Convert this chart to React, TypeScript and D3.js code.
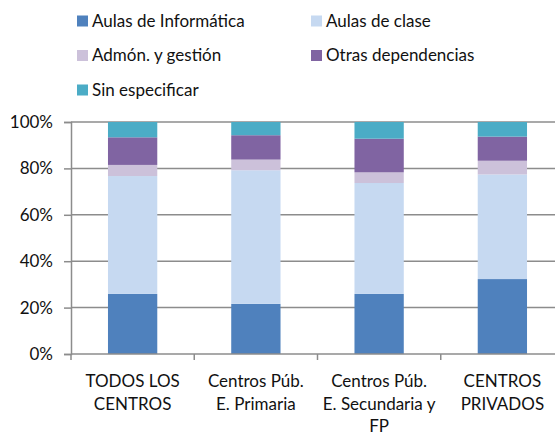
import React, { useEffect, useRef } from 'react';
import * as d3 from 'd3';

const categories = [
  ['TODOS LOS', 'CENTROS'],
  ['Centros Púb.', 'E. Primaria'],
  ['Centros Púb.', 'E. Secundaria y', 'FP'],
  ['CENTROS', 'PRIVADOS'],
];

const seriesNames = [
  'Aulas de Informática',
  'Aulas de clase',
  'Admón. y gestión',
  'Otras dependencias',
  'Sin especificar',
];

// percent shares per category, one array per series
const informatica = [25.9, 21.6, 25.9, 32.3];
const clase = [50.8, 57.6, 47.8, 45.1];
const admon = [4.8, 4.6, 4.6, 5.9];
const otras = [11.9, 10.5, 14.5, 10.4];
const sinEspecificar = [6.6, 5.7, 7.2, 6.3];

const colors = ['#4F81BD', '#C6D9F1', '#CCC1DA', '#8064A2', '#4BACC6'];
const yTicks = [0, 20, 40, 60, 80, 100];

const App: React.FC = () => {
  const svgRef = useRef<SVGSVGElement>(null);

  useEffect(() => {
    if (!svgRef.current) return;
    d3.select(svgRef.current).selectAll('*').remove();

    const svg = d3.select(svgRef.current);
    const font = 'Lato, Carlito, Calibri, sans-serif';
    const fontSize = 17;
    const textColor = '#111';

    const left = 71;
    const right = 564;
    const top = 122;
    const bottom = 354;

    const rows = categories.map((c, i) => ({
      key: i,
      'Aulas de Informática': informatica[i],
      'Aulas de clase': clase[i],
      'Admón. y gestión': admon[i],
      'Otras dependencias': otras[i],
      'Sin especificar': sinEspecificar[i],
    }));

    const stack = d3.stack<any>().keys(seriesNames);
    const layers = stack(rows);

    const x = d3.scaleBand<number>()
      .domain(categories.map((_, i) => i))
      .range([left, right])
      .paddingInner(0.6)
      .paddingOuter(0.3);
    const xEdges = d3.scaleLinear().domain([0, categories.length]).range([left, right]);
    const y = d3.scaleLinear().domain([0, 100]).range([bottom, top]);

    // gridlines
    svg.append('g')
      .selectAll('line')
      .data(yTicks.filter(t => t > 0))
      .enter()
      .append('line')
      .attr('x1', left)
      .attr('x2', right)
      .attr('y1', d => y(d))
      .attr('y2', d => y(d))
      .attr('stroke', '#8c8c8c')
      .attr('stroke-width', 1.5);

    // bars
    svg.append('g')
      .selectAll('g')
      .data(layers)
      .enter()
      .append('g')
      .attr('fill', (_, i) => colors[i])
      .selectAll('rect')
      .data(d => d)
      .enter()
      .append('rect')
      .attr('x', (d: any) => x(d.data.key)!)
      .attr('width', x.bandwidth())
      .attr('y', d => y(d[1]))
      .attr('height', d => y(d[0]) - y(d[1]));

    // y axis
    const yAxis = d3.axisLeft(y)
      .tickValues(yTicks)
      .tickSize(7)
      .tickFormat(d => `${d}%`);
    const ya = svg.append('g')
      .attr('transform', `translate(${left},0)`)
      .call(yAxis);
    ya.select('.domain').attr('stroke', '#8c8c8c').attr('stroke-width', 1.5);
    ya.selectAll('.tick line').attr('stroke', '#8c8c8c').attr('stroke-width', 1.5);
    ya.selectAll('.tick text')
      .attr('x', -18)
      .attr('font-family', font)
      .attr('font-size', fontSize)
      .attr('fill', textColor);

    // x axis line + ticks
    svg.append('line')
      .attr('x1', left)
      .attr('x2', right)
      .attr('y1', bottom)
      .attr('y2', bottom)
      .attr('stroke', '#8c8c8c')
      .attr('stroke-width', 1.5);
    svg.append('g')
      .selectAll('line')
      .data(d3.range(categories.length + 1))
      .enter()
      .append('line')
      .attr('x1', d => xEdges(d))
      .attr('x2', d => xEdges(d))
      .attr('y1', bottom)
      .attr('y2', bottom + 6)
      .attr('stroke', '#8c8c8c')
      .attr('stroke-width', 1.5);

    // category labels
    categories.forEach((lines, i) => {
      const t = svg.append('text')
        .attr('text-anchor', 'middle')
        .attr('font-family', font)
        .attr('font-size', fontSize)
        .attr('fill', textColor);
      lines.forEach((line, j) => {
        t.append('tspan')
          .attr('x', x(i)! + x.bandwidth() / 2)
          .attr('y', 387 + j * 22.5)
          .text(line);
      });
    });

    // legend
    const legendX = [77, 311];
    const legendY = [21, 55.5, 90];
    seriesNames.forEach((name, i) => {
      const lx = legendX[i % 2];
      const ly = legendY[Math.floor(i / 2)];
      svg.append('rect')
        .attr('x', lx)
        .attr('y', ly - 5.5)
        .attr('width', 11)
        .attr('height', 11)
        .attr('fill', colors[i]);
      svg.append('text')
        .attr('x', lx + 15)
        .attr('y', ly)
        .attr('dy', '0.35em')
        .attr('font-family', font)
        .attr('font-size', fontSize)
        .attr('fill', textColor)
        .text(name);
    });
  }, []);

  return (
    <svg
      ref={svgRef}
      width={555}
      height={436}
      style={{ position: 'absolute', left: 0, top: 0, background: '#fff' }}
    />
  );
};

export default App;
